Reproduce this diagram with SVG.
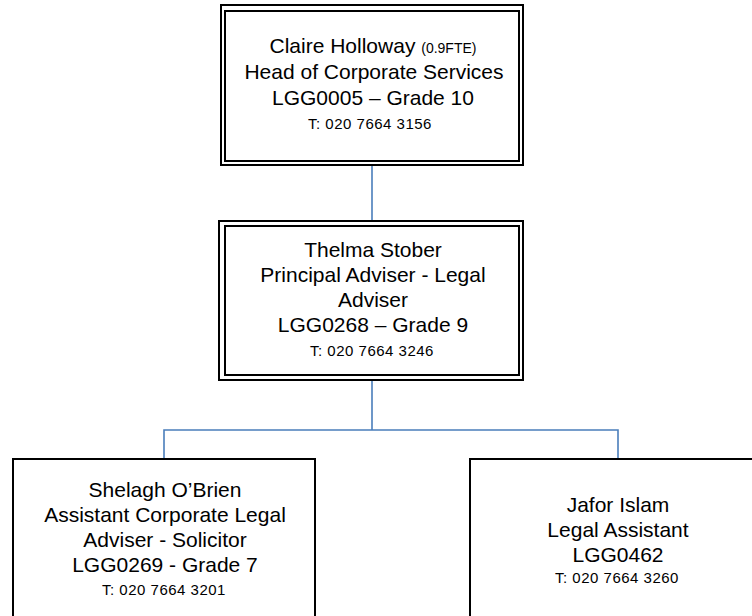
<svg xmlns="http://www.w3.org/2000/svg" width="752" height="616" viewBox="0 0 752 616">
<style>
.box{fill:#fff;stroke:#000;stroke-width:2}
.t{font-family:"Liberation Sans",Arial,sans-serif;font-size:21px;fill:#000;text-anchor:middle}
.ph{font-size:15px;letter-spacing:0.5px}
.sm{font-size:14px}
.conn{fill:none;stroke:#4a7ebb;stroke-width:1.6}
</style>
<rect width="752" height="616" fill="#fff"/>
<g id="connectors">
<path class="conn" d="M372 165V221"/>
<path class="conn" d="M372 380V430M164 459V430H618V459"/>
</g>
<g id="node-claire">
<rect class="box" x="221" y="5" width="302" height="160"/>
<rect class="box" x="225" y="11" width="294" height="150" fill="none"/>
<text class="t" x="373" y="53">Claire Holloway <tspan class="sm">(0.9FTE)</tspan></text>
<text class="t" x="374" y="79">Head of Corporate Services</text>
<text class="t" x="373" y="105">LGG0005 – Grade 10</text>
<text class="t ph" x="370" y="129">T: 020 7664 3156</text>
</g>
<g id="node-thelma">
<rect class="box" x="219" y="221" width="304" height="159"/>
<rect class="box" x="225" y="226" width="294" height="149" fill="none"/>
<text class="t" x="373" y="257">Thelma Stober</text>
<text class="t" x="373" y="282">Principal Adviser - Legal</text>
<text class="t" x="373" y="307">Adviser</text>
<text class="t" x="373" y="332">LGG0268 – Grade 9</text>
<text class="t ph" x="372" y="356">T: 020 7664 3246</text>
</g>
<g id="node-shelagh">
<rect class="box" x="13" y="459" width="302" height="180"/>
<text class="t" x="165" y="497">Shelagh O’Brien</text>
<text class="t" x="165" y="522">Assistant Corporate Legal</text>
<text class="t" x="165" y="547">Adviser - Solicitor</text>
<text class="t" x="165" y="572">LGG0269 - Grade 7</text>
<text class="t ph" x="164" y="595">T: 020 7664 3201</text>
</g>
<g id="node-jafor">
<rect class="box" x="470" y="459" width="296" height="180"/>
<text class="t" x="618" y="512">Jafor Islam</text>
<text class="t" x="618" y="537">Legal Assistant</text>
<text class="t" x="618" y="562">LGG0462</text>
<text class="t ph" x="617" y="583">T: 020 7664 3260</text>
</g>
</svg>
